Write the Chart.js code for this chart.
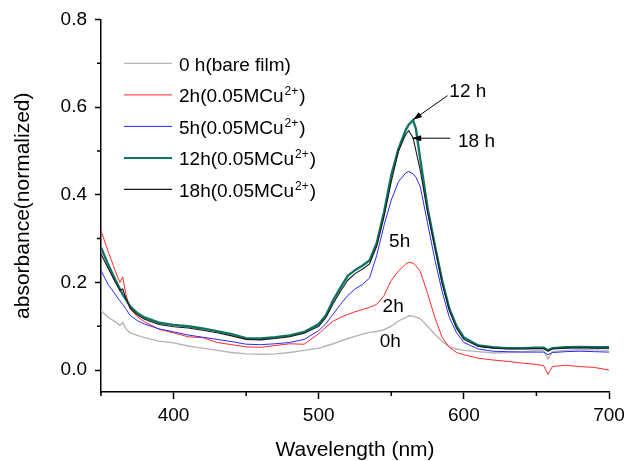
<!DOCTYPE html>
<html lang="en">
<head>
<meta charset="UTF-8">
<title>Absorbance vs wavelength</title>
<script src="https://cdn.jsdelivr.net/npm/chart.js"></script>
<style>
  html, body { margin: 0; padding: 0; background: #fff; }
  canvas { display: block; }
</style>
</head>
<body>
<canvas id="chart" width="637" height="461"></canvas>
<script>
// wavelength (nm), shared by all curves
const wavelengths = [350, 355, 360, 363, 365, 367, 370, 375, 380, 390,
  400, 410, 420, 430, 440, 450, 460, 470, 480, 490,
  500, 505, 510, 515, 520, 525, 530, 535, 540, 545,
  550, 555, 560, 562, 565, 567, 570, 575, 580, 585,
  590, 595, 600, 610, 620, 630, 640, 650, 655, 658,
  661, 670, 680, 690, 700];

const abs0h = [0.136, 0.12, 0.11, 0.102, 0.108, 0.095, 0.085, 0.079, 0.074, 0.066,
  0.062, 0.055, 0.05, 0.045, 0.04, 0.037, 0.036, 0.037, 0.04, 0.045,
  0.05, 0.055, 0.06, 0.066, 0.072, 0.077, 0.082, 0.086, 0.088, 0.092,
  0.1, 0.112, 0.12, 0.124, 0.123, 0.121, 0.117, 0.1, 0.082, 0.066,
  0.053, 0.048, 0.045, 0.042, 0.039, 0.04, 0.042, 0.044, 0.045, 0.025,
  0.042, 0.045, 0.047, 0.046, 0.045];

const abs2h = [0.318, 0.27, 0.225, 0.2, 0.212, 0.175, 0.14, 0.122, 0.11, 0.093,
  0.085, 0.076, 0.074, 0.063, 0.058, 0.053, 0.052, 0.056, 0.06, 0.059,
  0.083, 0.098, 0.112, 0.12, 0.127, 0.133, 0.138, 0.143, 0.15, 0.17,
  0.205, 0.226, 0.242, 0.246, 0.244, 0.238, 0.225, 0.175, 0.12, 0.075,
  0.052, 0.04, 0.035, 0.027, 0.023, 0.02, 0.016, 0.013, 0.01, -0.01,
  0.008, 0.011, 0.008, 0.006, 0.0];

const abs5h = [0.227, 0.195, 0.172, 0.158, 0.15, 0.14, 0.125, 0.113, 0.105, 0.094,
  0.087, 0.08, 0.075, 0.07, 0.065, 0.059, 0.058, 0.06, 0.063, 0.07,
  0.09, 0.106, 0.128, 0.15, 0.17, 0.185, 0.195, 0.21, 0.262, 0.33,
  0.388, 0.43, 0.45, 0.453, 0.448, 0.44, 0.418, 0.335, 0.252, 0.18,
  0.12, 0.085, 0.063, 0.048, 0.043, 0.042, 0.041, 0.041, 0.041, 0.035,
  0.04, 0.042, 0.043, 0.042, 0.041];

const abs12h = [0.28, 0.24, 0.205, 0.185, 0.172, 0.162, 0.146, 0.13, 0.12, 0.108,
  0.103, 0.1, 0.095, 0.089, 0.082, 0.073, 0.072, 0.075, 0.079, 0.087,
  0.105, 0.125, 0.16, 0.188, 0.215, 0.228, 0.238, 0.25, 0.29, 0.36,
  0.445, 0.505, 0.548, 0.56, 0.57, 0.55, 0.48, 0.37, 0.285, 0.205,
  0.14, 0.1, 0.074, 0.056, 0.052, 0.05, 0.05, 0.051, 0.051, 0.045,
  0.05, 0.052, 0.053, 0.052, 0.052];

const abs18h = [0.265, 0.232, 0.2, 0.182, 0.185, 0.165, 0.142, 0.126, 0.116, 0.104,
  0.099, 0.096, 0.091, 0.085, 0.078, 0.07, 0.069, 0.072, 0.076, 0.084,
  0.1, 0.12, 0.152, 0.18, 0.205, 0.22, 0.23, 0.242, 0.283, 0.35,
  0.43, 0.5, 0.538, 0.546, 0.53, 0.5, 0.455, 0.36, 0.28, 0.198,
  0.136, 0.095, 0.07, 0.054, 0.05, 0.048, 0.048, 0.049, 0.049, 0.043,
  0.048, 0.05, 0.051, 0.05, 0.05];

const seriesNames = ['0 h(bare film)', '2h(0.05MCu2+)', '5h(0.05MCu2+)', '12h(0.05MCu2+)', '18h(0.05MCu2+)'];
const xMajorTicks = [400, 500, 600, 700];
const xMinorTicks = [350, 450, 550, 650];
const yMajorTicks = [0.0, 0.2, 0.4, 0.6, 0.8];
const yMinorTicks = [0.1, 0.3, 0.5, 0.7];

const FONT = 'Arial, "Liberation Sans", sans-serif';

const curveStyle = [
  { color: '#b4b4b4', width: 1.4 },
  { color: '#ff2a2a', width: 1 },
  { color: '#2a2aff', width: 1 },
  { color: '#0f7466', width: 2.4 },
  { color: '#1a1a1a', width: 1.1 }
];
const allSeries = [abs0h, abs2h, abs5h, abs12h, abs18h];

// text labels and arrows, placed in data units
const curveTags = [
  { text: '5h', x: 548.5, y: 0.292 },
  { text: '2h', x: 544, y: 0.144 },
  { text: '0h', x: 542, y: 0.064 },
  { text: '12 h', x: 590, y: 0.634 },
  { text: '18 h', x: 596, y: 0.52 }
];
const arrows = [
  { from: [588.7, 0.626], to: [565, 0.571] },
  { from: [590.6, 0.529], to: [564.4, 0.529] }
];

const datasets = allSeries.map((s, i) => ({
  label: seriesNames[i],
  data: wavelengths.map((w, j) => ({ x: w, y: s[j] })),
  borderColor: curveStyle[i].color,
  borderWidth: curveStyle[i].width,
  pointRadius: 0,
  tension: 0,
  fill: false,
  order: 5 - i
}));

const decorPlugin = {
  id: 'decor',
  afterDraw(chart) {
    const { ctx, chartArea, scales: { x, y } } = chart;
    ctx.save();
    ctx.strokeStyle = '#000';
    ctx.lineWidth = 1.5;
    // minor ticks
    ctx.beginPath();
    xMinorTicks.forEach(v => {
      const px = x.getPixelForValue(v);
      ctx.moveTo(px, chartArea.bottom);
      ctx.lineTo(px, chartArea.bottom + 4);
    });
    yMinorTicks.forEach(v => {
      const py = y.getPixelForValue(v);
      ctx.moveTo(chartArea.left, py);
      ctx.lineTo(chartArea.left - 4, py);
    });
    ctx.stroke();

    // legend
    const lx = chartArea.left + 23;
    seriesNames.forEach((name, i) => {
      const ry = chartArea.top + 44 + i * 31.5;
      ctx.strokeStyle = curveStyle[i].color;
      ctx.lineWidth = Math.min(curveStyle[i].width, 2);
      ctx.beginPath();
      ctx.moveTo(lx, ry);
      ctx.lineTo(lx + 48, ry);
      ctx.stroke();
      ctx.fillStyle = '#000';
      ctx.textBaseline = 'alphabetic';
      ctx.textAlign = 'left';
      let tx = lx + 55;
      const base = ry + 7.5;
      const m = name.match(/^(.*Cu)(2\+)\)$/);
      ctx.font = '19px ' + FONT;
      if (m) {
        ctx.fillText(m[1], tx, base);
        tx += ctx.measureText(m[1]).width + 1;
        ctx.font = '12px ' + FONT;
        ctx.fillText(m[2], tx, base - 7);
        tx += ctx.measureText(m[2]).width + 1;
        ctx.font = '19px ' + FONT;
        ctx.fillText(')', tx, base);
      } else {
        ctx.fillText(name, tx, base);
      }
    });

    // curve tags
    ctx.fillStyle = '#000';
    ctx.font = '19px ' + FONT;
    ctx.textBaseline = 'middle';
    ctx.textAlign = 'left';
    curveTags.forEach(t => {
      ctx.fillText(t.text, x.getPixelForValue(t.x), y.getPixelForValue(t.y));
    });

    // arrows
    ctx.strokeStyle = '#000';
    ctx.lineWidth = 1;
    arrows.forEach(a => {
      const x0 = x.getPixelForValue(a.from[0]), y0 = y.getPixelForValue(a.from[1]);
      const x1 = x.getPixelForValue(a.to[0]), y1 = y.getPixelForValue(a.to[1]);
      const ang = Math.atan2(y1 - y0, x1 - x0);
      ctx.beginPath();
      ctx.moveTo(x0, y0);
      ctx.lineTo(x1, y1);
      ctx.stroke();
      ctx.beginPath();
      ctx.moveTo(x1, y1);
      ctx.lineTo(x1 - 9 * Math.cos(ang) + 3 * Math.sin(ang), y1 - 9 * Math.sin(ang) - 3 * Math.cos(ang));
      ctx.lineTo(x1 - 9 * Math.cos(ang) - 3 * Math.sin(ang), y1 - 9 * Math.sin(ang) + 3 * Math.cos(ang));
      ctx.closePath();
      ctx.fill();
    });
    ctx.restore();
  }
};

new Chart(document.getElementById('chart'), {
  type: 'line',
  data: { datasets },
  plugins: [decorPlugin],
  options: {
    responsive: false,
    animation: false,
    layout: { padding: { top: 18, right: 28, left: 0, bottom: 0 } },
    plugins: { legend: { display: false }, tooltip: { enabled: false } },
    scales: {
      x: {
        type: 'linear',
        min: 350,
        max: 700,
        afterBuildTicks: s => { s.ticks = xMajorTicks.map(v => ({ value: v })); },
        afterFit: s => { s.height = 69; },
        grid: { drawOnChartArea: false, tickLength: 7, tickWidth: 1.5, tickColor: '#000' },
        border: { color: '#000', width: 1.5 },
        ticks: { color: '#000', font: { family: FONT, size: 19 }, padding: 5, maxRotation: 0, autoSkip: false },
        title: { display: true, text: 'Wavelength (nm)', color: '#000',
          font: { family: FONT, size: 21, lineHeight: 1 }, padding: { top: 0, bottom: 0 } }
      },
      y: {
        min: -0.05,
        max: 0.8,
        afterBuildTicks: s => { s.ticks = yMajorTicks.map(v => ({ value: v })); },
        afterFit: s => { s.width = 101; },
        grid: { drawOnChartArea: false, tickLength: 6, tickWidth: 1.5, tickColor: '#000' },
        border: { color: '#000', width: 1.5 },
        ticks: { color: '#000', font: { family: FONT, size: 19 }, padding: 8,
          callback: v => v.toFixed(1) },
        title: { display: true, text: 'absorbance(normalized)', color: '#000',
          font: { family: FONT, size: 21, lineHeight: 1 }, padding: { top: 13, bottom: 0 } }
      }
    }
  }
});
</script>
</body>
</html>
